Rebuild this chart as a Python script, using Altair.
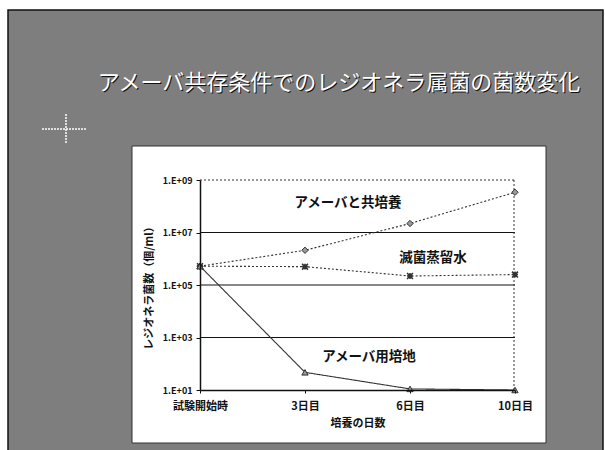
import altair as alt
import pandas as pd

# Culture days and Legionella counts (CFU/ml) for each condition
days = ["試験開始時", "3日目", "6日目", "10日目"]
series_names = ["アメーバと共培養", "滅菌蒸留水", "アメーバ用培地"]
coculture = [5.2e5, 2.1e6, 2.2e7, 3.4e8]
distilled_water = [5.2e5, 5.0e5, 2.2e5, 2.5e5]
amoeba_medium = [5.2e5, 47, 11, 10]
y_ticks = [1e1, 1e3, 1e5, 1e7, 1e9]
grid_levels = [1e3, 1e5, 1e7]

FONT = "Noto Sans CJK JP"
W, H = 315, 210          # plot area
LEFT, TOP = 200, 180     # plot origin within the 605x450 canvas

x_scale = alt.Scale(type="point", domain=days, padding=0)
y_scale = alt.Scale(type="log", domain=[10, 1e9])

one = alt.Data(values=[{}])


def box(x0, y0, x1, y1, fill, stroke=None, sw=0):
    kw = dict(fill=fill)
    if stroke:
        kw.update(stroke=stroke, strokeWidth=sw)
    return alt.Chart(one).mark_rect(**kw).encode(
        x=alt.value(x0 - LEFT), x2=alt.value(x1 - LEFT),
        y=alt.value(y0 - TOP), y2=alt.value(y1 - TOP),
    )


# slide background and white chart panel
slide = box(8, 10, 603, 452, "#7e7e7e", "#111111", 1.5)
panel = box(132, 146, 546, 443, "#ffffff", "#333333", 1)

# dotted crosshair marker on the slide
cross_h = alt.Chart(one).mark_rule(color="white", strokeWidth=1.5, strokeDash=[2, 1]).encode(
    x=alt.value(42 - LEFT), x2=alt.value(86 - LEFT), y=alt.value(129 - TOP))
cross_v = alt.Chart(one).mark_rule(color="white", strokeWidth=1.5, strokeDash=[2, 1]).encode(
    x=alt.value(66 - LEFT), y=alt.value(114 - TOP), y2=alt.value(144 - TOP))

# slide title: white text with dark edge
title_text = "アメーバ共存条件でのレジオネラ属菌の菌数変化"
title_shadow = alt.Chart(one).mark_text(
    font=FONT, fontSize=22, color="#111111", align="center", baseline="middle"
).encode(x=alt.value(339 - LEFT + 1), y=alt.value(83 - TOP + 1), text=alt.value(title_text))
title = alt.Chart(one).mark_text(
    font=FONT, fontSize=22, color="#ffffff", align="center", baseline="middle"
).encode(x=alt.value(339 - LEFT), y=alt.value(83 - TOP), text=alt.value(title_text))

# horizontal grid lines and dotted frame
grid = alt.Chart(pd.DataFrame({"v": grid_levels})).mark_rule(color="#111111", strokeWidth=1.2).encode(
    y=alt.Y("v:Q", scale=y_scale), x=alt.value(0), x2=alt.value(W))
top_border = alt.Chart(one).mark_rule(color="#333333", strokeWidth=1, strokeDash=[2, 2]).encode(
    x=alt.value(0), x2=alt.value(W), y=alt.value(0))
right_border = alt.Chart(one).mark_rule(color="#333333", strokeWidth=1, strokeDash=[2, 2]).encode(
    x=alt.value(W - 1), y=alt.value(0), y2=alt.value(H))

# data series
df = pd.DataFrame({
    "day": days * 3,
    "series": [s for s in series_names for _ in days],
    "count": coculture + distilled_water + amoeba_medium,
})

x_enc = alt.X(
    "day:N", scale=x_scale, sort=days,
    axis=alt.Axis(title="培養の日数", labelAngle=0, labelFont=FONT, labelFontSize=11,
                  labelFontWeight="bold", labelColor="#111111", labelPadding=7,
                  titleFont=FONT, titleFontSize=11, titleFontWeight="bold", titleColor="#111111",
                  titlePadding=6, domainColor="#111111", domainWidth=1.5,
                  tickColor="#111111", tickSize=3, grid=False, zindex=1),
)
y_enc = alt.Y(
    "count:Q", scale=y_scale,
    axis=alt.Axis(title="レジオネラ菌数（個/ml）", values=y_ticks,
                  labelExpr="'1.E+0' + round(log(datum.value) / LN10)",
                  labelFont=FONT, labelFontSize=9, labelFontWeight="bold", labelColor="#111111",
                  labelPadding=4, titleFont=FONT, titleFontSize=11, titleFontWeight="bold",
                  titleColor="#111111", titlePadding=8, domainColor="#111111", domainWidth=1.5,
                  tickColor="#111111", tickSize=4, grid=False, zindex=1),
)

styles = {
    "アメーバと共培養": dict(dash=[2, 2], shape="diamond", filled=True),
    "滅菌蒸留水": dict(dash=[2, 2], shape="M-1,-1L1,1M1,-1L-1,1M-1,0L1,0M0,-1L0,1", filled=False),
    "アメーバ用培地": dict(dash=[1, 0], shape="triangle-up", filled=True),
}

layers = []
for name in series_names:
    st = styles[name]
    base = alt.Chart(df).transform_filter(alt.datum.series == name)
    layers.append(base.mark_line(color="#333333", strokeWidth=1.1, strokeDash=st["dash"]).encode(x=x_enc, y=y_enc))
    if st["filled"]:
        pt = base.mark_point(shape=st["shape"], filled=True, size=40, fill="#9a9a9a",
                             stroke="#222222", strokeWidth=0.9, opacity=1)
    else:
        pt = base.mark_point(shape=st["shape"], filled=False, size=35, stroke="#333333",
                             strokeWidth=1.6, opacity=1)
    layers.append(pt.encode(x=x_enc, y=y_enc))

# series labels inside the plot
labels = alt.Chart(pd.DataFrame({
    "text": series_names,
    "px": [148, 233, 169],
    "py": [23, 78, 177],
})).mark_text(font=FONT, fontSize=13.5, fontWeight="bold", color="#111111",
              align="center", baseline="middle").encode(
    x=alt.X("px:Q", scale=None), y=alt.Y("py:Q", scale=None), text="text:N")

chart = alt.layer(
    slide, panel, cross_h, cross_v, title_shadow, title,
    grid, top_border, right_border, *layers, labels,
).properties(
    width=W, height=H,
    padding={"left": LEFT, "top": TOP, "right": 605 - LEFT - W, "bottom": 450 - TOP - H},
    autosize=alt.AutoSizeParams(type="none"),
    background="#ffffff",
).configure_view(stroke=None)

chart.save("out.html", embed_options={"renderer": "svg", "actions": False})
